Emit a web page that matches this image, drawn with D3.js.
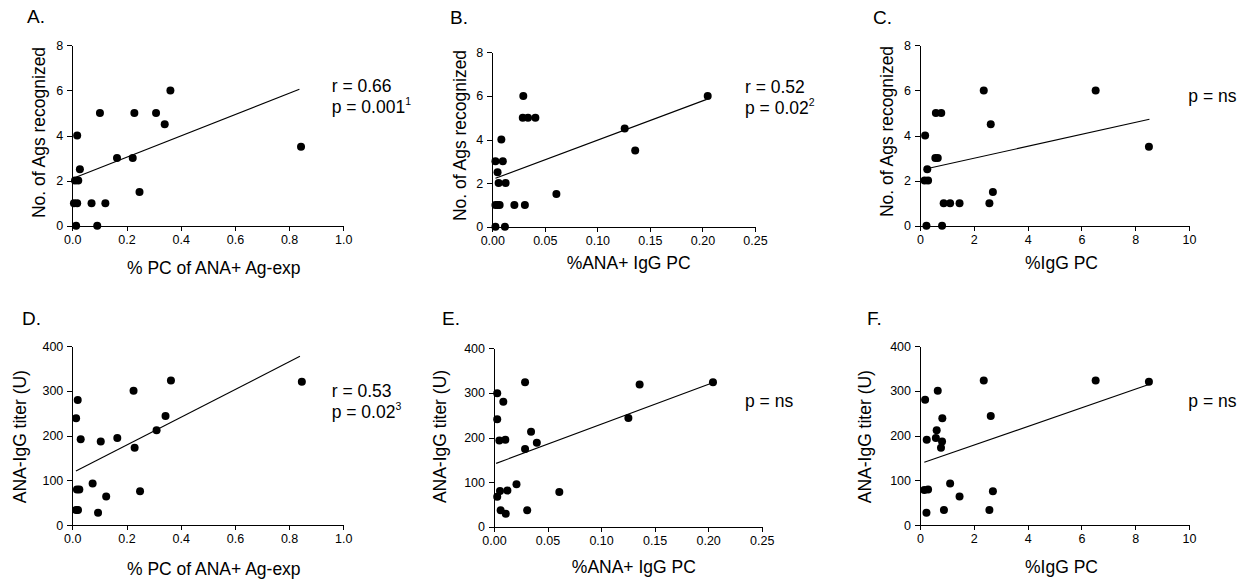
<!DOCTYPE html>
<html>
<head>
<meta charset="utf-8">
<script src="https://cdn.jsdelivr.net/npm/d3@7"></script>
<style>
  body { margin: 0; background: #fff; }
  svg { font-family: "Liberation Sans", Arial, sans-serif; }
  .axis path, .axis line { stroke: #000; stroke-width: 1; shape-rendering: crispEdges; }
  .axis text { font-size: 12.5px; fill: #000; }
  .title { font-size: 17.5px; fill: #000; }
  .panel-label { font-size: 19px; fill: #000; }
</style>
</head>
<body>
<svg id="chart" width="1250" height="582"></svg>
<script>
// values
var aX = [0.014, 0.092, 0.006, 0.018, 0.071, 0.122, 0.010, 0.022, 0.028, 0.018, 0.102, 0.165, 0.223, 0.229, 0.248, 0.309, 0.341, 0.362, 0.844];
var aY = [0, 0, 1, 1, 1, 1, 2, 2, 2.5, 4, 5, 3, 3, 5, 1.5, 5, 4.5, 6, 3.5];

var bX = [0.003, 0.012, 0.003, 0.005, 0.007, 0.021, 0.031, 0.061, 0.006, 0.0127, 0.005, 0.003, 0.010, 0.0086, 0.029, 0.034, 0.041, 0.0295, 0.126, 0.136, 0.205];
var bY = [0, 0, 1, 1, 1, 1, 1, 1.5, 2, 2, 2.5, 3, 3, 4, 5, 5, 5, 6, 4.5, 3.5, 6];

var cX = [0.24, 0.82, 0.88, 1.12, 1.47, 2.58, 2.71, 0.17, 0.30, 0.27, 0.57, 0.66, 0.19, 0.59, 0.79, 2.63, 2.37, 6.53, 8.51];
var cY = [0, 0, 1, 1, 1, 1, 1.5, 2, 2, 2.5, 3, 3, 4, 5, 5, 4.5, 6, 6, 3.5];

var dX = [0.020, 0.014, 0.031, 0.105, 0.166, 0.226, 0.230, 0.311, 0.344, 0.364, 0.847, 0.017, 0.026, 0.075, 0.125, 0.250, 0.014, 0.021, 0.095];
var dY = [279.5, 239, 192, 187, 195, 300, 173, 212, 244, 323, 320, 80, 80, 93, 64, 76, 34, 34, 28];

var eX = [0.003, 0.0087, 0.003, 0.005, 0.0106, 0.029, 0.0346, 0.040, 0.029, 0.021, 0.0056, 0.0125, 0.003, 0.0062, 0.011, 0.031, 0.061, 0.1255, 0.136, 0.2045];
var eY = [299, 280, 241, 193, 195, 324, 213, 188, 174, 95, 80, 81, 67, 37, 29, 37, 78, 244, 319, 324];

var fX = [0.19, 0.25, 0.66, 0.62, 0.59, 0.82, 0.78, 0.83, 2.37, 2.63, 6.53, 8.51, 0.16, 0.30, 1.12, 1.47, 2.71, 0.24, 0.89, 2.58];
var fY = [280, 191, 300, 212, 195, 187, 173, 239, 323, 244, 323, 320, 79, 80, 93, 64, 76, 28, 34, 34];

// regression line end points [x0, y0, x1, y1]
var aFit = [0.006, 2.12, 0.838, 6.05];
var bFit = [0.003, 2.22, 0.204, 5.84];
var cFit = [0.16, 2.5, 8.53, 4.72];
var dFit = [0.0135, 121, 0.840, 377];
var eFit = [0.002, 142, 0.2036, 322];
var fFit = [0.16, 140.5, 8.53, 314.5];

var xTicksAg = [0, 0.2, 0.4, 0.6, 0.8, 1.0];
var xTicksAna = [0, 0.05, 0.10, 0.15, 0.20, 0.25];
var xTicksIgg = [0, 2, 4, 6, 8, 10];
var yTicksAgs = [0, 2, 4, 6, 8];
var yTicksTiter = [0, 100, 200, 300, 400];

var xTitles = ['% PC of ANA+ Ag-exp', '%ANA+ IgG PC', '%IgG PC'];
var yTitles = ['No. of Ags recognized', 'ANA-IgG titer (U)'];
var labels = ['A.', 'B.', 'C.', 'D.', 'E.', 'F.'];
var stats = [['r = 0.66', 'p = 0.001', '1'], ['r = 0.52', 'p = 0.02', '2'], ['p = ns'],
             ['r = 0.53', 'p = 0.02', '3'], ['p = ns'], ['p = ns']];

// layout of each panel (pixels)
var panels = [
    {xs: aX, ys: aY, fit: aFit, xt: xTicksAg, xf: '.1f', yt: yTicksAgs, xTitle: 0, yTitle: 0,
     l: 72.3, r: 343.3, t: 45.3, b: 225.7, lab: [27, 23], st: [331.7, 91.7], xtY: 48, xtDx: 6, ytX: 27.5, ytDy: -3},
    {xs: bX, ys: bY, fit: bFit, xt: xTicksAna, xf: '.2f', yt: yTicksAgs, xTitle: 1, yTitle: 0,
     l: 492.3, r: 755, t: 52.3, b: 226.7, lab: [450, 24], st: [745, 92.7], xtY: 42.6, xtDx: 5, ytX: 26.5, ytDy: -4},
    {xs: cX, ys: cY, fit: cFit, xt: xTicksIgg, xf: 'd', yt: yTicksAgs, xTitle: 2, yTitle: 0,
     l: 920, r: 1189, t: 45.3, b: 225.7, lab: [873, 24], st: [1188.3, 101.7], xtY: 43.6, xtDx: 7, ytX: 27, ytDy: -4},
    {xs: dX, ys: dY, fit: dFit, xt: xTicksAg, xf: '.1f', yt: yTicksTiter, xTitle: 0, yTitle: 1,
     l: 72.3, r: 343.3, t: 346, b: 525.3, lab: [22, 325], st: [331.7, 396.7], xtY: 49.7, xtDx: 6, ytX: 46.5, ytDy: 1},
    {xs: eX, ys: eY, fit: eFit, xt: xTicksAna, xf: '.2f', yt: yTicksTiter, xTitle: 1, yTitle: 1,
     l: 494, r: 761.7, t: 348.3, b: 526.7, lab: [442, 325], st: [745, 406.7], xtY: 46.6, xtDx: 6, ytX: 48, ytDy: -1},
    {xs: fX, ys: fY, fit: fFit, xt: xTicksIgg, xf: 'd', yt: yTicksTiter, xTitle: 2, yTitle: 1,
     l: 920, r: 1189, t: 346, b: 525.3, lab: [867, 325], st: [1188.3, 406.7], xtY: 48, xtDx: 7, ytX: 49, ytDy: 1}
];

var svg = d3.select('#chart');

function drawPanel(p, i) {
    var x = d3.scaleLinear().domain([0, p.xt[p.xt.length - 1]]).range([p.l, p.r]);
    var y = d3.scaleLinear().domain([0, p.yt[p.yt.length - 1]]).range([p.b, p.t]);
    var g = svg.append('g').classed('panel', true);

    g.append('g')
        .classed('axis', true)
        .attr('transform', 'translate(0,' + p.b + ')')
        .call(d3.axisBottom(x).tickValues(p.xt).tickFormat(d3.format(p.xf)).tickSize(5).tickSizeOuter(0).tickPadding(4));

    g.append('g')
        .classed('axis', true)
        .attr('transform', 'translate(' + p.l + ',0)')
        .call(d3.axisLeft(y).tickValues(p.yt).tickFormat(d3.format('d')).tickSize(5).tickSizeOuter(0).tickPadding(4));

    g.selectAll('.axis .domain').attr('stroke', '#000');

    // fitted line
    g.append('line')
        .attr('x1', x(p.fit[0])).attr('y1', y(p.fit[1]))
        .attr('x2', x(p.fit[2])).attr('y2', y(p.fit[3]))
        .style('stroke', '#000')
        .style('stroke-width', 1.1);

    g.selectAll('circle')
        .data(p.xs)
        .enter()
        .append('circle')
        .attr('cx', function (d) { return x(d); })
        .attr('cy', function (d, j) { return y(p.ys[j]); })
        .attr('r', 4)
        .style('fill', '#000');

    // titles
    g.append('text')
        .classed('title', true)
        .attr('x', (p.l + p.r) / 2 + p.xtDx)
        .attr('y', p.b + p.xtY)
        .attr('text-anchor', 'middle')
        .text(xTitles[p.xTitle]);

    g.append('text')
        .classed('title', true)
        .attr('transform', 'translate(' + (p.l - p.ytX) + ',' + ((p.t + p.b) / 2 + p.ytDy) + ') rotate(-90)')
        .attr('text-anchor', 'middle')
        .text(yTitles[p.yTitle]);

    g.append('text')
        .classed('panel-label', true)
        .attr('x', p.lab[0])
        .attr('y', p.lab[1])
        .text(labels[i]);

    var s = stats[i];
    g.append('text').classed('title', true)
        .attr('x', p.st[0]).attr('y', p.st[1])
        .text(s[0]);
    if (s.length > 1) {
        var t = g.append('text').classed('title', true)
            .attr('x', p.st[0]).attr('y', p.st[1] + 21.5);
        t.append('tspan').text(s[1]);
        t.append('tspan')
            .attr('dy', -8)
            .style('font-size', '10.5px')
            .text(s[2]);
    }
}

panels.forEach(drawPanel);
</script>
</body>
</html>
